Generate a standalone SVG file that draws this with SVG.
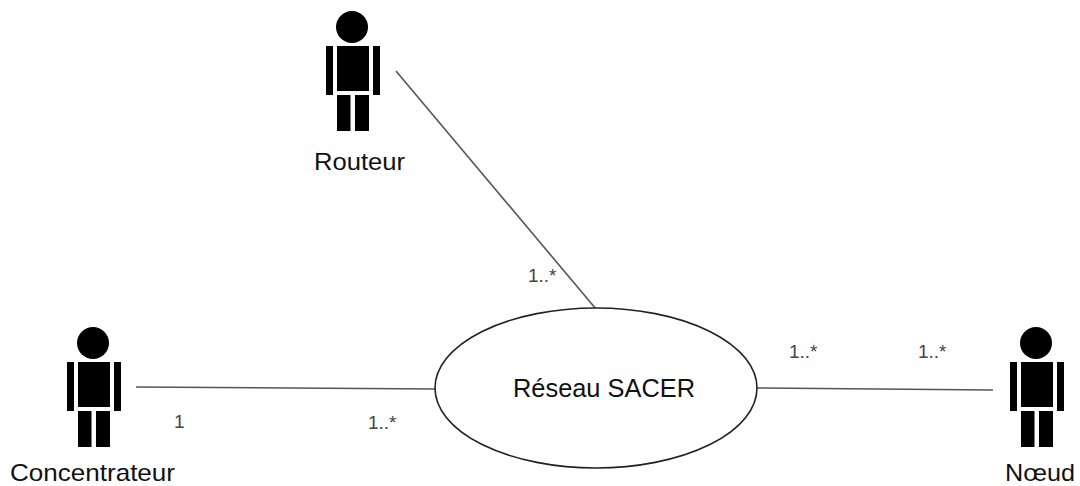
<svg xmlns="http://www.w3.org/2000/svg" width="1080" height="486" viewBox="0 0 1080 486">
<style>
text{font-family:"Liberation Sans",Arial,sans-serif;fill:#111}
.name{font-size:24px}
.ell{font-size:25px}
.m{font-size:19px;fill:#444}
.c{stroke:#555;stroke-width:1.6;fill:none}
</style>
<defs>
<g id="actor" fill="#000">
<circle cx="0" cy="0" r="16"/>
<rect x="-26" y="19" width="7" height="49"/>
<rect x="-15" y="19" width="32" height="45"/>
<rect x="21" y="19" width="7" height="49"/>
<rect x="-15" y="68" width="13.500" height="36"/>
<rect x="3" y="68" width="14" height="36"/>
</g>
</defs>
<rect width="1080" height="486" fill="#fff"/>
<g id="connectors">
<line class="c" x1="396" y1="71" x2="596" y2="309"/>
<line class="c" x1="136" y1="387" x2="436" y2="389"/>
<line class="c" x1="757" y1="388" x2="993" y2="390"/>
<text class="m" x="528" y="282">1..*</text>
<text class="m" x="174" y="428">1</text>
<text class="m" x="368" y="429">1..*</text>
<text class="m" x="789" y="358">1..*</text>
<text class="m" x="918" y="358">1..*</text>
</g>
<g id="routeur">
<use href="#actor" x="352" y="27"/>
<text class="name" x="314" y="170" textLength="91" lengthAdjust="spacingAndGlyphs">Routeur</text>
</g>
<g id="concentrateur">
<use href="#actor" x="93" y="343"/>
<text class="name" x="10" y="480.500" textLength="165" lengthAdjust="spacingAndGlyphs">Concentrateur</text>
</g>
<g id="noeud">
<use href="#actor" x="1036" y="343"/>
<text class="name" x="1005" y="480.500" textLength="70" lengthAdjust="spacingAndGlyphs">Nœud</text>
</g>
<g id="reseau">
<ellipse cx="596" cy="388" rx="161" ry="80" fill="#fff" stroke="#222" stroke-width="1.6"/>
<text class="ell" x="513" y="397" textLength="182" lengthAdjust="spacingAndGlyphs">Réseau SACER</text>
</g>
</svg>
